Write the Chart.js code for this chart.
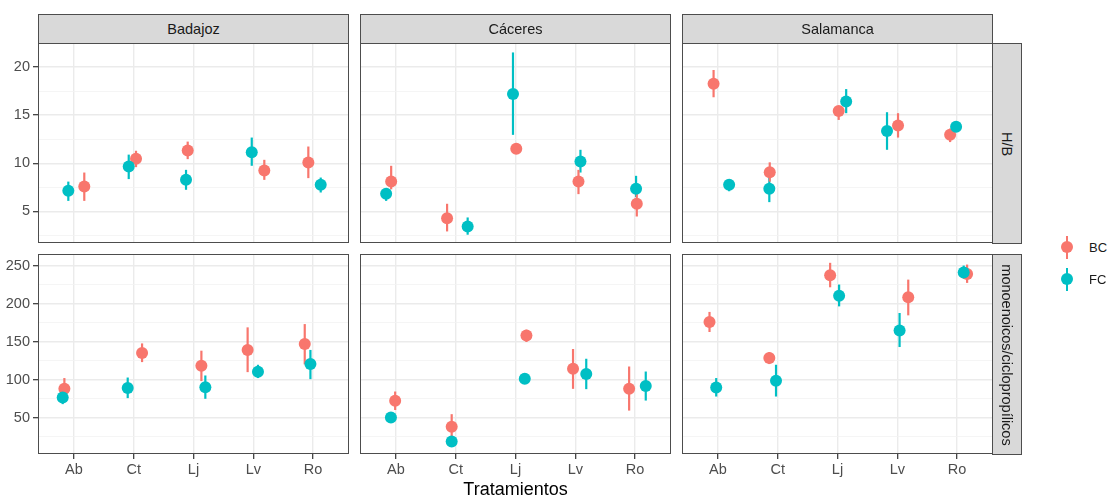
<!DOCTYPE html>
<html>
<head>
<meta charset="utf-8">
<script src="https://cdn.jsdelivr.net/npm/chart.js@4.4.0/dist/chart.umd.min.js"></script>
<style>
  html, body { margin: 0; padding: 0; background: #ffffff; }
  body { width: 1112px; height: 497px; position: relative; overflow: hidden;
         font-family: "Liberation Sans", Arial, Helvetica, sans-serif; }
  .strip { position: absolute; background: #D9D9D9; border: 1px solid #4d4d4d; box-sizing: border-box;
           color: #1a1a1a; font-size: 14.5px; display: flex; align-items: center; justify-content: center; }
  .vtext { transform: rotate(90deg); white-space: nowrap; }
  .title { position: absolute; font-size: 18px; color: #000; white-space: nowrap; transform: translate(-50%, -50%); }
  .legtxt { position: absolute; font-size: 13px; color: #1a1a1a; transform: translateY(-50%); }
  .legline { position: absolute; width: 2px; height: 23px; }
  .legdot { position: absolute; width: 12px; height: 12px; border-radius: 50%; }
</style>
</head>
<body>
<script>
// ---------------- data ----------------
const categories = ['Ab', 'Ct', 'Lj', 'Lv', 'Ro'];
const sites = ['Badajoz', 'Cáceres', 'Salamanca'];
const variables = ['H/B', 'monoenoicos/ciclopropílicos'];
const seriesNames = ['BC', 'FC'];
const seriesColors = ['#F8766D', '#00BFC4'];

// H/B, BC  (one row per site: Badajoz, Cáceres, Salamanca)
const hbBCMean = [[7.6, 10.46, 11.32, 9.25, 10.08], [8.11, 4.31, 11.5, 8.11, 5.8], [18.26, 9.08, 15.43, 13.91, 12.95]];
const hbBCLow  = [[6.1, 9.6, 10.43, 8.28, 8.46], [7.3, 2.93, 11.1, 6.8, 4.48], [16.85, 8.1, 14.5, 12.67, 12.2]];
const hbBCHigh = [[9.04, 11.3, 12.25, 10.36, 11.74], [9.74, 5.8, 11.9, 9.32, 7.1], [19.68, 10.1, 15.9, 15.2, 13.6]];
const hbBCJitter = [[0.174, 0.039, -0.097, 0.184, -0.08], [-0.079, -0.144, 0.013, 0.053, 0.028], [-0.072, -0.133, 0.02, 0.012, -0.117]];

// H/B, FC
const hbFCMean = [[7.15, 9.66, 8.28, 11.15, 7.77], [6.83, 3.45, 17.2, 10.18, 7.35], [7.77, 7.35, 16.4, 13.36, 13.8]];
const hbFCLow  = [[6.1, 8.36, 7.25, 9.74, 6.97], [6.1, 2.59, 12.95, 9.04, 6.5], [7.1, 5.97, 15.2, 11.4, 13.3]];
const hbFCHigh = [[8.1, 10.9, 9.32, 12.67, 8.52], [7.35, 4.38, 21.5, 11.4, 8.7], [8.3, 8.6, 17.7, 15.3, 14.3]];
const hbFCJitter = [[-0.093, -0.083, -0.125, -0.026, 0.127], [-0.163, 0.2, -0.042, 0.086, 0.016], [0.188, -0.14, 0.145, -0.172, -0.017]];

// monoenoicos/ciclopropílicos, BC
const mcBCMean = [[87.8, 134.9, 118.2, 138.8, 146.8], [72, 38.1, 158.1, 114.2, 87.8], [175.8, 128.3, 237.2, 208.2, 239]];
const mcBCLow  = [[75, 123, 98, 109.8, 120], [60, 25, 149.4, 87.8, 59.2], [162.6, 120.4, 221.4, 184.5, 227.2]];
const mcBCHigh = [[102, 147.6, 138, 168.7, 173], [84.3, 54.5, 165.6, 140.2, 117.2], [189, 136.2, 253.6, 231.5, 251.3]];
const mcBCJitter = [[-0.159, 0.14, 0.132, -0.095, -0.14], [-0.012, -0.067, 0.183, -0.038, -0.1], [-0.14, -0.14, -0.123, 0.183, 0.167]];

// monoenoicos/ciclopropílicos, FC
const mcFCMean = [[76.4, 88.8, 90, 110.3, 120.4], [50, 18.4, 101, 107.2, 91.4], [89.6, 98.4, 210.4, 164.7, 241]];
const mcFCLow  = [[67.7, 75.6, 74.7, 102, 100.6], [45, 15, 97, 87.4, 72.4], [77.7, 77.7, 196.3, 142.8, 233]];
const mcFCHigh = [[82.6, 102.7, 105.4, 119.5, 139], [55, 22, 105, 127.4, 110.6], [102, 119.5, 225, 187.6, 250]];
const mcFCJitter = [[-0.187, -0.1, 0.198, 0.078, -0.045], [-0.083, -0.067, 0.155, 0.183, 0.178], [-0.028, -0.028, 0.027, 0.038, 0.11]];

// tick labels / axis limits
const yTicksHB = [5, 10, 15, 20];
const yTicksMC = [50, 100, 150, 200, 250];
const yRangeHB = [1.73, 22.48];
const yRangeMC = [2.1, 265.2];
const xTitle = 'Tratamientos';

// ---------------- layout ----------------
const PANEL_W = 311, PANEL_H = 200, Y_AXIS_W = 38, X_AXIS_H = 32;
const colLeft = [38, 360, 682];
const rowTop = [43, 254];
const FONT = '"Liberation Sans", Arial, Helvetica, sans-serif';

const rows = [
  { BC: [hbBCMean, hbBCLow, hbBCHigh, hbBCJitter], FC: [hbFCMean, hbFCLow, hbFCHigh, hbFCJitter],
    ticks: yTicksHB, range: yRangeHB, minor: 2.5 },
  { BC: [mcBCMean, mcBCLow, mcBCHigh, mcBCJitter], FC: [mcFCMean, mcFCLow, mcFCHigh, mcFCJitter],
    ticks: yTicksMC, range: yRangeMC, minor: 25 }
];

const errorBars = {
  id: 'errorBars',
  beforeDatasetsDraw(chart) {
    const ctx = chart.ctx, xs = chart.scales.x, ys = chart.scales.y;
    chart.data.datasets.forEach(ds => {
      ctx.save();
      ctx.strokeStyle = ds.backgroundColor;
      ctx.lineWidth = 2.2;
      ds.data.forEach((p, i) => {
        const px = xs.getPixelForValue(p.x);
        ctx.beginPath();
        ctx.moveTo(px, ys.getPixelForValue(ds.lo[i]));
        ctx.lineTo(px, ys.getPixelForValue(ds.hi[i]));
        ctx.stroke();
      });
      ctx.restore();
    });
  }
};

const panelBorder = {
  id: 'panelBorder',
  afterDraw(chart) {
    const a = chart.chartArea, ctx = chart.ctx;
    ctx.save();
    ctx.strokeStyle = '#4d4d4d';
    ctx.lineWidth = 1;
    ctx.strokeRect(Math.round(a.left) + 0.5, Math.round(a.top) + 0.5,
                   Math.round(a.right - a.left) - 1, Math.round(a.bottom - a.top) - 1);
    ctx.restore();
  }
};

function isMajor(v, majors) { return majors.some(m => Math.abs(m - v) < 1e-6); }

function buildPanel(r, c) {
  const row = rows[r];
  const left = colLeft[c] - (c === 0 ? Y_AXIS_W : 0);
  const w = PANEL_W + (c === 0 ? Y_AXIS_W : 0);
  const h = PANEL_H + (r === 1 ? X_AXIS_H : 0);
  const cv = document.createElement('canvas');
  cv.width = w; cv.height = h;
  cv.style.cssText = `position:absolute;left:${left}px;top:${rowTop[r]}px;width:${w}px;height:${h}px;`;
  document.body.appendChild(cv);

  const mk = (name, color) => {
    const [mean, lo, hi, jit] = row[name];
    return {
      label: name,
      data: categories.map((cat, i) => ({ x: i + 1 + jit[c][i], y: mean[c][i] })),
      lo: lo[c], hi: hi[c],
      backgroundColor: color, borderWidth: 0, pointRadius: 6, pointHoverRadius: 6
    };
  };

  new Chart(cv, {
    type: 'scatter',
    data: { datasets: [mk('FC', seriesColors[1]), mk('BC', seriesColors[0])] },
    options: {
      responsive: false, animation: false, devicePixelRatio: 1, events: [],
      layout: { padding: 0, autoPadding: false },
      plugins: { legend: { display: false }, tooltip: { enabled: false } },
      scales: {
        x: {
          type: 'linear', min: 0.4, max: 5.6,
          afterFit: s => { s.height = r === 1 ? X_AXIS_H : 0; s.paddingLeft = 0; s.paddingRight = 0; s.paddingTop = 0; s.paddingBottom = 0; },
          ticks: { display: r === 1, stepSize: 1, includeBounds: false, autoSkip: false, maxRotation: 0,
                   color: '#4d4d4d', font: { size: 14.5, family: FONT }, padding: 2,
                   callback: v => categories[Math.round(v) - 1] ?? '' },
          grid: { color: '#EBEBEB', lineWidth: 1.4, drawTicks: r === 1, tickLength: 5,
                  tickColor: r === 1 ? '#333333' : 'transparent', tickWidth: 1.2 },
          border: { display: false }
        },
        y: {
          type: 'linear', min: row.range[0], max: row.range[1],
          afterFit: s => { s.width = c === 0 ? Y_AXIS_W : 0; s.paddingLeft = 0; s.paddingRight = 0; s.paddingTop = 0; s.paddingBottom = 0; },
          ticks: { display: c === 0, stepSize: row.minor, includeBounds: false, autoSkip: false,
                   color: '#4d4d4d', font: { size: 14.5, family: FONT }, padding: 3,
                   callback: v => isMajor(v, row.ticks) ? String(v) : '' },
          grid: {
            color: ctx => isMajor(ctx.tick.value, row.ticks) ? '#EBEBEB' : '#F3F3F3',
            lineWidth: ctx => isMajor(ctx.tick.value, row.ticks) ? 1.4 : 0.8,
            drawTicks: c === 0, tickLength: 5, tickWidth: 1.2,
            tickColor: ctx => (c === 0 && isMajor(ctx.tick.value, row.ticks)) ? '#333333' : 'transparent'
          },
          border: { display: false }
        }
      }
    },
    plugins: [errorBars, panelBorder]
  });
}

for (let r = 0; r < 2; r++) for (let c = 0; c < 3; c++) buildPanel(r, c);

// strips
sites.forEach((s, c) => {
  const d = document.createElement('div');
  d.className = 'strip';
  d.style.cssText = `left:${colLeft[c]}px;top:14px;width:${PANEL_W}px;height:30px;`;
  d.textContent = s;
  document.body.appendChild(d);
});
variables.forEach((v, r) => {
  const d = document.createElement('div');
  d.className = 'strip';
  d.style.cssText = `left:${colLeft[2] + PANEL_W - 1}px;top:${rowTop[r]}px;width:30px;height:${PANEL_H + 1}px;`;
  const t = document.createElement('span');
  t.className = 'vtext';
  t.textContent = v;
  d.appendChild(t);
  document.body.appendChild(d);
});

// axis title
const tt = document.createElement('div');
tt.className = 'title';
tt.style.left = (colLeft[1] + PANEL_W / 2) + 'px';
tt.style.top = '489px';
tt.textContent = xTitle;
document.body.appendChild(tt);

// legend
seriesNames.forEach((n, i) => {
  const cy = 247 + i * 32;
  const ln = document.createElement('div');
  ln.className = 'legline';
  ln.style.cssText = `left:1066px;top:${cy - 11.5}px;background:${seriesColors[i]};`;
  const dot = document.createElement('div');
  dot.className = 'legdot';
  dot.style.cssText = `left:1061px;top:${cy - 6}px;background:${seriesColors[i]};`;
  const tx = document.createElement('div');
  tx.className = 'legtxt';
  tx.style.cssText = `left:1089px;top:${cy}px;`;
  tx.textContent = n;
  document.body.append(ln, dot, tx);
});
</script>
</body>
</html>
